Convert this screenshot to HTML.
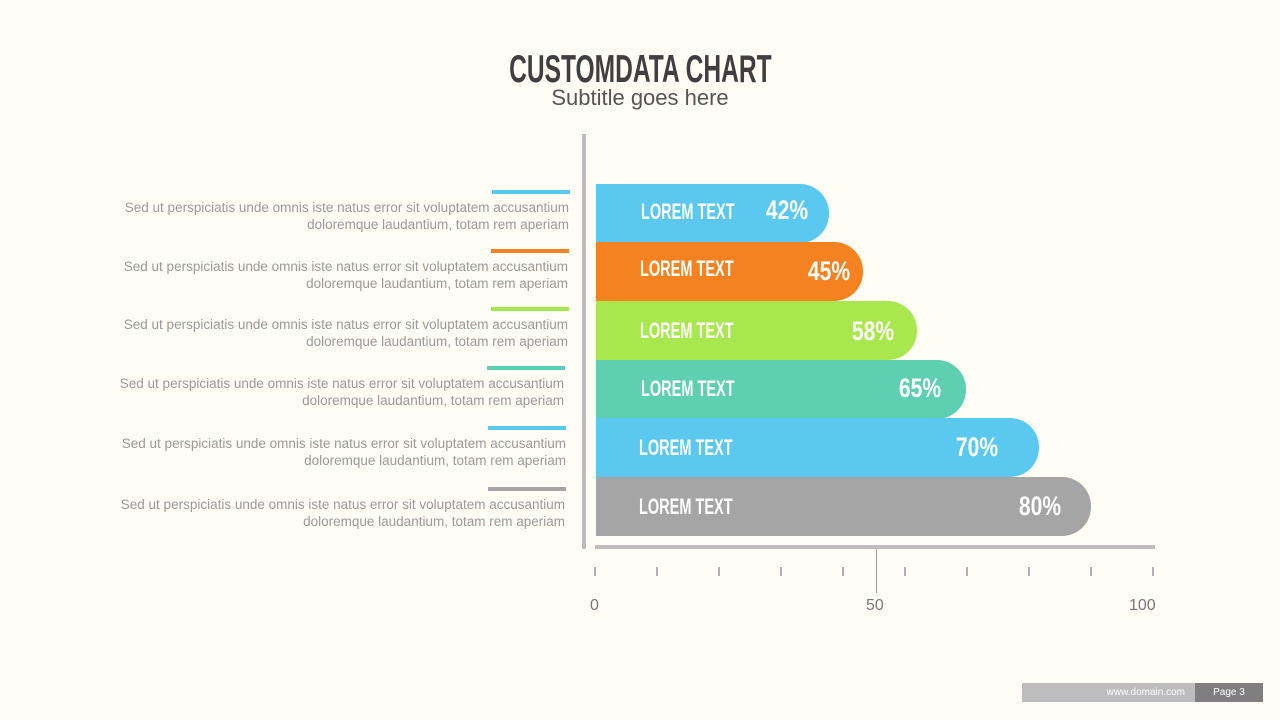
<!DOCTYPE html>
<html><head><style>
body{margin:0;width:1280px;height:720px;background:#fffdf6;position:relative;overflow:hidden;font-family:"Liberation Sans",sans-serif}
.a{position:absolute}
.title{left:0;width:1280px;top:48px;text-align:center;font-weight:bold;font-size:39px;color:#3f3f3f;letter-spacing:0px}
.title span{display:inline-block;transform:scaleX(0.63)}
.sub{left:0;width:1280px;top:85px;text-align:center;font-size:22px;color:#555}
.bar{left:596px;height:59px;border-radius:0 29px 29px 0}
.lbl{color:#fff;font-weight:bold;font-size:22px;transform:scaleX(0.66);transform-origin:left center;white-space:nowrap}
.pct{color:#fff;font-weight:bold;font-size:27px;transform:scaleX(0.78);transform-origin:right center;white-space:nowrap;text-align:right}
.desc{right:711px;text-align:right;font-size:13.5px;line-height:17px;color:#9a9a9a;white-space:nowrap}
.acc{height:4px;width:78px}
.tick{width:2px;height:9px;top:567px;background:#b0b0b0}
.ax{font-size:16px;color:#777;top:597px}
</style></head><body>
<div class="a title"><span>CUSTOMDATA CHART</span></div>
<div class="a sub">Subtitle goes here</div>
<div class="a" style="left:582px;top:134px;width:4px;height:415px;background:#bdbdbd"></div>
<div class="a" style="left:595px;top:545px;width:560px;height:4px;background:#bdbdbd"></div>
<div class="a" style="left:876px;top:549px;width:1px;height:44px;background:#999"></div>

<div class="a bar" style="top:184px;width:233px;background:#5bc8f0"></div>
<div class="a bar" style="top:242px;width:267px;background:#f58220"></div>
<div class="a bar" style="top:301px;width:321px;background:#a8e84e"></div>
<div class="a bar" style="top:360px;width:370px;background:#5ecfb1"></div>
<div class="a bar" style="top:418px;width:443px;background:#5bc8f0"></div>
<div class="a bar" style="top:477px;width:495px;background:#a5a5a5"></div>

<div class="a lbl" style="left:641px;top:199px">LOREM TEXT</div>
<div class="a lbl" style="left:640px;top:256px">LOREM TEXT</div>
<div class="a lbl" style="left:640px;top:318px">LOREM TEXT</div>
<div class="a lbl" style="left:641px;top:376px">LOREM TEXT</div>
<div class="a lbl" style="left:639px;top:435px">LOREM TEXT</div>
<div class="a lbl" style="left:639px;top:494px">LOREM TEXT</div>

<div class="a pct" style="right:472px;top:195px">42%</div>
<div class="a pct" style="right:430px;top:256px">45%</div>
<div class="a pct" style="right:386px;top:316px">58%</div>
<div class="a pct" style="right:339px;top:373px">65%</div>
<div class="a pct" style="right:282px;top:432px">70%</div>
<div class="a pct" style="right:219px;top:491px">80%</div>

<div class="a acc" style="left:492px;top:190px;background:#5bc8f0"></div>
<div class="a acc" style="left:491px;top:249px;background:#f58220"></div>
<div class="a acc" style="left:491px;top:307px;background:#a8e84e"></div>
<div class="a acc" style="left:487px;top:366px;background:#5ecfb1"></div>
<div class="a acc" style="left:488px;top:426px;background:#5bc8f0"></div>
<div class="a acc" style="left:488px;top:487px;background:#a5a5a5"></div>

<div class="a desc" style="top:199px">Sed ut perspiciatis unde omnis iste natus error sit voluptatem accusantium<br>doloremque laudantium, totam rem aperiam</div>
<div class="a desc" style="top:258px;right:712px">Sed ut perspiciatis unde omnis iste natus error sit voluptatem accusantium<br>doloremque laudantium, totam rem aperiam</div>
<div class="a desc" style="top:316px;right:712px">Sed ut perspiciatis unde omnis iste natus error sit voluptatem accusantium<br>doloremque laudantium, totam rem aperiam</div>
<div class="a desc" style="top:375px;right:716px">Sed ut perspiciatis unde omnis iste natus error sit voluptatem accusantium<br>doloremque laudantium, totam rem aperiam</div>
<div class="a desc" style="top:435px;right:714px">Sed ut perspiciatis unde omnis iste natus error sit voluptatem accusantium<br>doloremque laudantium, totam rem aperiam</div>
<div class="a desc" style="top:496px;right:715px">Sed ut perspiciatis unde omnis iste natus error sit voluptatem accusantium<br>doloremque laudantium, totam rem aperiam</div>

<div class="a tick" style="left:594px"></div>
<div class="a tick" style="left:656px"></div>
<div class="a tick" style="left:718px"></div>
<div class="a tick" style="left:780px"></div>
<div class="a tick" style="left:842px"></div>
<div class="a tick" style="left:904px"></div>
<div class="a tick" style="left:966px"></div>
<div class="a tick" style="left:1028px"></div>
<div class="a tick" style="left:1090px"></div>
<div class="a tick" style="left:1152px"></div>
<div class="a ax" style="left:590px">0</div>
<div class="a ax" style="left:866px">50</div>
<div class="a ax" style="left:1129px">100</div>

<div class="a" style="left:1022px;top:683px;width:173px;height:19px;background:#bdbdbd;color:#fff;font-size:10px;line-height:19px;text-align:right;box-sizing:border-box;padding-right:10px">www.domain.com</div>
<div class="a" style="left:1195px;top:683px;width:68px;height:19px;background:#7f7f7f;color:#fff;font-size:10px;line-height:19px;text-align:center">Page 3</div>
</body></html>
